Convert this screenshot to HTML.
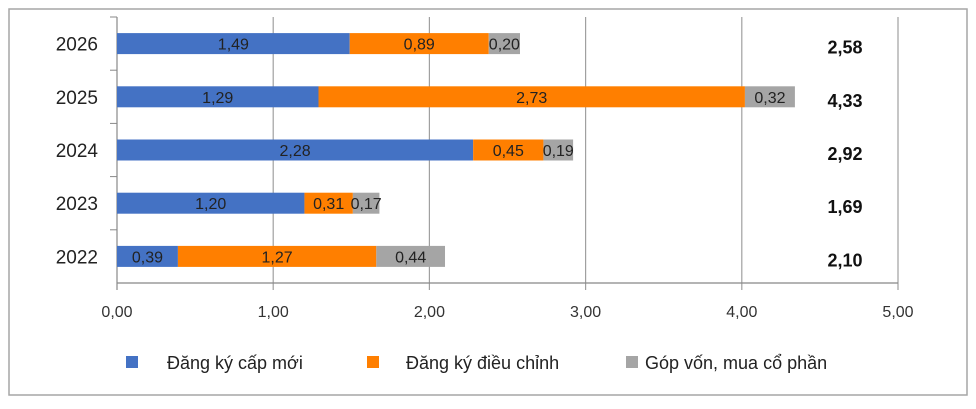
<!DOCTYPE html>
<html><head><meta charset="utf-8"><style>
body{margin:0;background:#fff;}
svg text{font-family:"Liberation Sans",sans-serif;}
</style></head><body>
<svg width="976" height="404">
<rect x="9" y="9" width="958" height="386" fill="#fff" stroke="#a6a6a6" stroke-width="1.5"/>
<g id="grid"></g><g id="bars"></g><g id="labels"></g>
<g font-size="18" fill="#222">
<rect x="126" y="356" width="12" height="12" fill="#4472c4"/>
<text x="167" y="369">Đăng ký cấp mới</text>
<rect x="367" y="356" width="12" height="12" fill="#ff7f00"/>
<text x="406" y="369">Đăng ký điều chỉnh</text>
<rect x="626" y="356" width="12" height="12" fill="#a5a5a5"/>
<text x="645" y="369">Góp vốn, mua cổ phần</text>
</g>
</svg>
<script>
const categories=["2026","2025","2024","2023","2022"];
const newReg=[1.49,1.29,2.28,1.20,0.39];
const adjust=[0.89,2.73,0.45,0.31,1.27];
const capital=[0.20,0.32,0.19,0.17,0.44];
const totals=[2.58,4.33,2.92,1.69,2.10];
const ticks=[0,1,2,3,4,5];
const NS="http://www.w3.org/2000/svg";
const x0=117,unit=156.2,plotTop=17,plotBottom=283,band=(plotBottom-plotTop)/categories.length,bh=21;
const X=v=>x0+v*unit, Yc=i=>plotTop+band*(i+0.5);
function mk(t,a,p,txt){const e=document.createElementNS(NS,t);for(const k in a)e.setAttribute(k,a[k]);if(txt!==undefined)e.textContent=txt;p.appendChild(e);return e;}
const g=document.getElementById('grid'),b=document.getElementById('bars'),l=document.getElementById('labels');
ticks.forEach(t=>{
 const ln=mk('line',{x1:X(t),x2:X(t),y1:plotTop,y2:plotBottom+7,stroke:t===0?'#888':'#a0a0a0','stroke-width':1.2},g);
 
 
 const tx=mk('text',{x:X(t),y:317,'text-anchor':'middle','font-size':16,fill:'#333'},g,t.toFixed(2).replace('.',','));
 
 
});
const ax=mk('line',{x1:x0,x2:X(5),y1:plotBottom,y2:plotBottom,stroke:'#888','stroke-width':1.2},g);


for(let i=0;i<categories.length;i++){const y=plotTop+band*i;mk('line',{x1:110,x2:x0,y1:y,y2:y,stroke:'#888'},g);}
const series=[[newReg,'#4472c4'],[adjust,'#ff7f00'],[capital,'#a5a5a5']];
categories.forEach((c,i)=>{
 const yc=Yc(i);
 const cl=mk('text',{x:98,y:yc+7,'text-anchor':'end','font-size':19,fill:'#222'},l,c);
 
 
 let acc=0;
 series.forEach(([arr,col],s)=>{
  const v=arr[i];
  const r=mk('rect',{x:X(acc),y:yc-bh/2,width:v*unit,height:bh,fill:col},b);
  
  
  const t=mk('text',{x:X(acc+v/2),y:yc+6,'text-anchor':'middle','font-size':16,fill:'#222'},l,v.toFixed(2).replace('.',','));
  
  
  acc+=v;
 });
 const tt=mk('text',{x:845,y:yc+10,'text-anchor':'middle','font-size':18,'font-weight':'bold',fill:'#111'},l,totals[i].toFixed(2).replace('.',','));
 
 
});
</script>
</body></html>
